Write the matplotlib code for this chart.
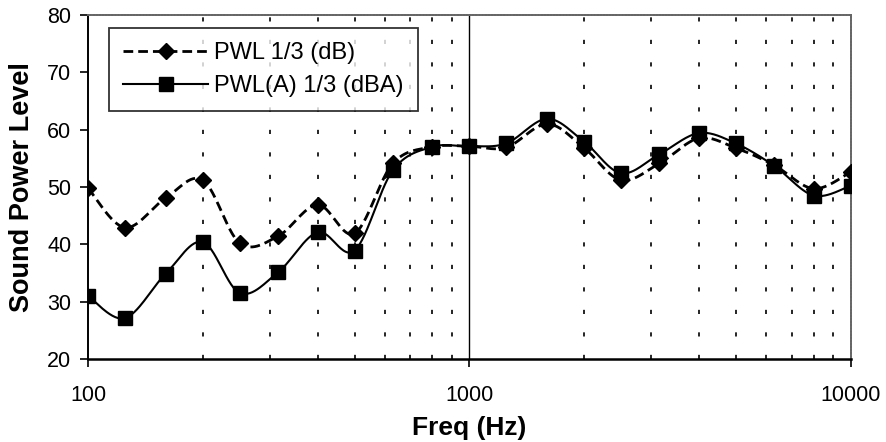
import numpy as np
import matplotlib
matplotlib.use("Agg")
import matplotlib.pyplot as plt
from matplotlib.ticker import FixedLocator, NullFormatter

plt.rcParams['font.family'] = ['Liberation Sans', 'DejaVu Sans']

freqs = [100, 125, 160, 200, 250, 315, 400, 500, 630, 800, 1000, 1250, 1600,
         2000, 2500, 3150, 4000, 5000, 6300, 8000, 10000]
pwl_db = [49.8, 42.9, 48.1, 51.2, 40.2, 41.4, 46.9, 41.9, 54.1, 57.0, 57.1, 56.9,
          61.0, 56.8, 51.2, 54.1, 58.5, 56.8, 53.8, 49.7, 52.6]
pwl_dba = [31.0, 27.1, 34.9, 40.4, 31.5, 35.1, 42.1, 38.9, 52.9, 57.0, 57.1, 57.6,
           61.9, 57.9, 52.4, 55.7, 59.4, 57.6, 53.7, 48.5, 50.2]
label_db = "PWL 1/3 (dB)"
label_dba = "PWL(A) 1/3 (dBA)"
xlabel = "Freq (Hz)"
ylabel = "Sound Power Level"


def smooth(xs, ys, n=30):
    # Catmull-Rom spline in log-frequency space (like Excel smoothed lines)
    lx = np.log10(np.asarray(xs, float))
    y = np.asarray(ys, float)
    P = np.column_stack([lx, y])
    P = np.vstack([P[0], P, P[-1]])
    out = []
    for i in range(1, len(P) - 2):
        p0, p1, p2, p3 = P[i - 1], P[i], P[i + 1], P[i + 2]
        t = np.linspace(0, 1, n, endpoint=(i == len(P) - 3))[:, None]
        c1 = p1 + (p2 - p0) / 6.0
        c2 = p2 - (p3 - p1) / 6.0
        b = ((1 - t) ** 3) * p1 + 3 * ((1 - t) ** 2) * t * c1 + 3 * (1 - t) * t ** 2 * c2 + t ** 3 * p2
        out.append(b)
    out = np.vstack(out)
    return 10 ** out[:, 0], out[:, 1]


fig = plt.figure(figsize=(8.87, 4.42), dpi=100)
ax = fig.add_axes([0.0992, 0.188, 0.8598, 0.778])
ax.set_xscale('log')
ax.set_xlim(100, 10000)
ax.set_ylim(20, 80)

# grid
ax.xaxis.set_minor_locator(FixedLocator([m * d for d in (100, 1000) for m in range(2, 10)]))
ax.xaxis.set_minor_formatter(NullFormatter())
ax.grid(which='minor', axis='x', color='black', linestyle=(0, (2.5, 11)), linewidth=1.2)
ax.axvline(1000, color='black', linewidth=1.0, zorder=1)

dash = (0, (3.5, 1.8))
sx, sy = smooth(freqs, pwl_db)
ax.plot(sx, sy, color='black', linestyle=dash, linewidth=2.0, zorder=3)
ax.plot(freqs, pwl_db, linestyle='none', marker='D', markersize=8.5, color='black', zorder=4)
sx2, sy2 = smooth(freqs, pwl_dba)
ax.plot(sx2, sy2, color='black', linestyle='-', linewidth=1.5, zorder=3)
ax.plot(freqs, pwl_dba, linestyle='none', marker='s', markersize=9.5, color='black', zorder=4)

# legend proxies
h1, = ax.plot([], [], color='black', linestyle=dash, linewidth=2.0, marker='D', markersize=8.5)
h2, = ax.plot([], [], color='black', linestyle='-', linewidth=1.5, marker='s', markersize=9.5)
leg = ax.legend([h1, h2], [label_db, label_dba], loc='upper left',
                bbox_to_anchor=(0.0275, 0.962), borderaxespad=0, fontsize=17,
                frameon=True, fancybox=False, edgecolor='black', handlelength=3.6,
                borderpad=0.6, labelspacing=0.45, handletextpad=0.25)
leg.get_frame().set_linewidth(1.3)

ax.set_yticks([20, 30, 40, 50, 60, 70, 80])
ax.set_xticks([100, 1000, 10000])
ax.set_xticklabels(['100', '1000', '10000'])
ax.tick_params(axis='both', which='major', labelsize=15.5, direction='out', length=6, width=1.2)
ax.tick_params(axis='x', which='minor', length=0)
ax.tick_params(axis='x', which='major', pad=13)
ax.tick_params(axis='y', which='major', pad=6)

ax.set_xlabel(xlabel, fontsize=19, fontweight='bold', labelpad=7)
ax.set_ylabel(ylabel, fontsize=19.5, fontweight='bold', labelpad=9)

for s in ('top', 'right'):
    ax.spines[s].set_color('#666666')
    ax.spines[s].set_linestyle((0, (1, 0.6)))
    ax.spines[s].set_linewidth(1.4)
ax.spines['left'].set_linewidth(1.4)
ax.spines['bottom'].set_linewidth(1.8)

fig.savefig('out.png', dpi=100)
